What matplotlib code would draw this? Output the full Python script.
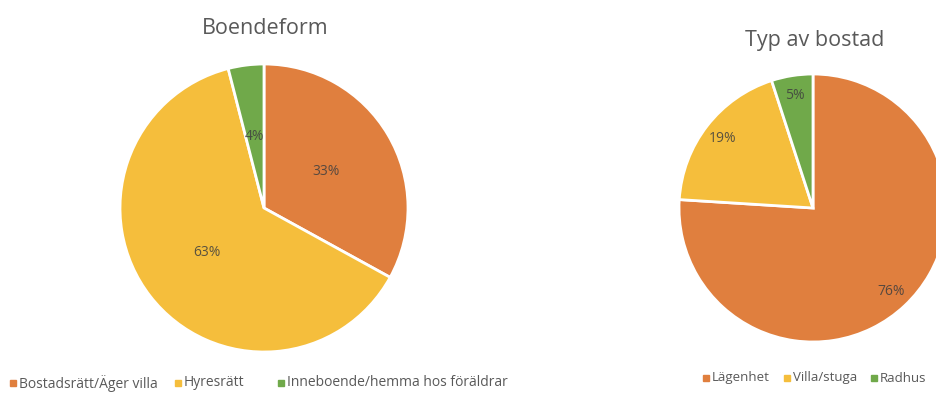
import matplotlib
matplotlib.use("Agg")
import matplotlib.pyplot as plt

# Boendeform
form_labels = ["Bostadsrätt/Äger villa", "Hyresrätt", "Inneboende/hemma hos föräldrar"]
form_values = [33, 63, 4]

# Typ av bostad
typ_labels = ["Lägenhet", "Villa/stuga", "Radhus"]
typ_values = [76, 19, 5]

colors = ["#E07F3E", "#F5BE3C", "#70A94A"]
text_grey = "#595959"
label_grey = "#3F3F3F"

plt.rcParams["font.family"] = ["Open Sans", "DejaVu Sans"]

W, H = 937, 394
fig = plt.figure(figsize=(W / 100, H / 100), dpi=100)
ax = fig.add_axes([0, 0, 1, 1])


def draw_pie(values, center, radius, pctdist):
    wedges, _, autotexts = ax.pie(
        values, colors=colors, startangle=90, counterclock=False,
        center=center, radius=radius, autopct="%.0f%%", pctdistance=pctdist,
        wedgeprops=dict(edgecolor="white", linewidth=2),
        textprops=dict(color=label_grey, alpha=0.85, fontsize=10),
    )
    return wedges


def draw_legend(labels, xs, y, size):
    for lab, x, c in zip(labels, xs, colors):
        ax.plot(x, y, marker="s", markersize=4, color=c, linestyle="none")
        ax.text(x + 6, y, lab, fontsize=size, color=text_grey, va="center", ha="left")


draw_pie(form_values, (264, H - 208), 144, 0.5)
draw_pie(typ_values, (813, H - 208), 134, 0.85)

ax.text(265, H - 28, "Boendeform", fontsize=15.5, color=text_grey, ha="center", va="center")
ax.text(815, H - 40, "Typ av bostad", fontsize=15.5, color=text_grey, ha="center", va="center")

draw_legend(form_labels, [13, 178, 281], H - 383, 10)
draw_legend(typ_labels, [706, 787, 874], H - 378, 9.5)

ax.set_xlim(0, W)
ax.set_ylim(0, H)
ax.set_aspect("equal")
ax.axis("off")

fig.savefig("out.png", dpi=100)
